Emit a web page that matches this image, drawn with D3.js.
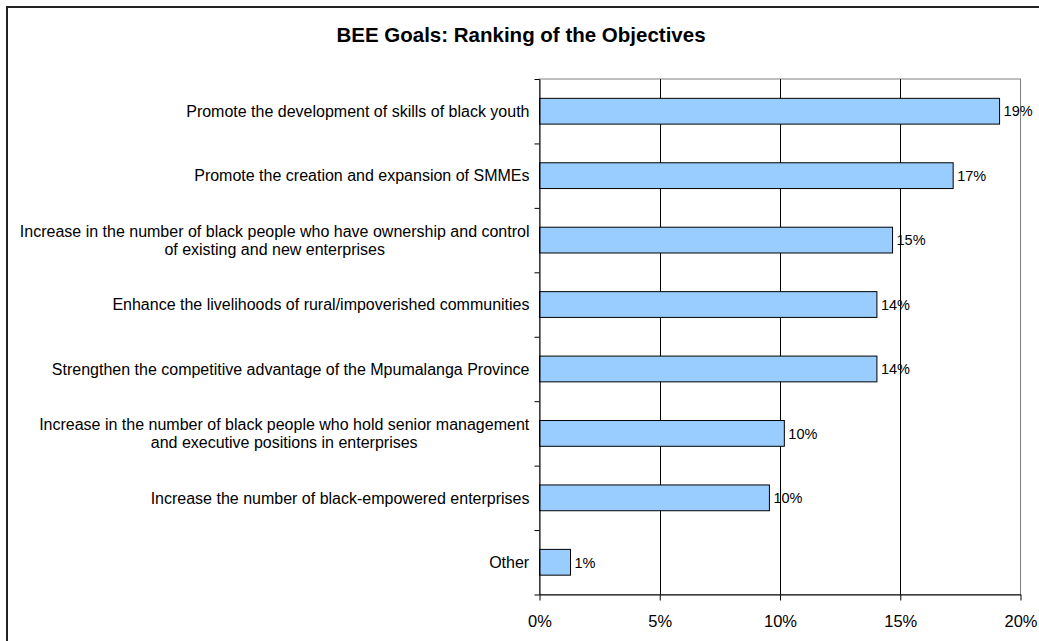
<!DOCTYPE html>
<html>
<head>
<meta charset="utf-8">
<script src="https://cdn.jsdelivr.net/npm/d3@7"></script>
<style>
  html, body { margin: 0; padding: 0; background: #fff; }
  svg { display: block; font-family: Arial, "Liberation Sans", sans-serif; }
</style>
</head>
<body>
<svg id="chart" width="1039" height="641"></svg>
<script>
// Objectives, top to bottom, each split into its display lines
const categories = [
  ["Promote the development of skills of black youth"],
  ["Promote the creation and expansion of SMMEs"],
  ["Increase in the number of black people who have ownership and control", "of existing and new enterprises"],
  ["Enhance the livelihoods of rural/impoverished communities"],
  ["Strengthen the competitive advantage of the Mpumalanga Province"],
  ["Increase in the number of black people who hold senior management", "and executive positions in enterprises"],
  ["Increase the number of black-empowered enterprises"],
  ["Other"]
];
// Share of responses ranking each objective (fraction)
const values = [0.1913, 0.1720, 0.1468, 0.1403, 0.1403, 0.1018, 0.0956, 0.0129];
const valueLabels = ["19%", "17%", "15%", "14%", "14%", "10%", "10%", "1%"];
const xTicks = [0, 0.05, 0.10, 0.15, 0.20];
const title = "BEE Goals: Ranking of the Objectives";

const svg = d3.select("#chart");
const plot = { left: 539.5, right: 1020.5, top: 79, bottom: 594.5 };

svg.append("rect").attr("width", 1039).attr("height", 641).attr("fill", "#fff");
// chart frame (runs past the right and bottom edges)
svg.append("rect")
  .attr("x", 7).attr("y", 7).attr("width", 1100).attr("height", 700)
  .attr("fill", "none").attr("stroke", "#222").attr("stroke-width", 2);

svg.append("text")
  .attr("x", 521).attr("y", 42)
  .attr("text-anchor", "middle")
  .attr("font-size", 20.5).attr("font-weight", "bold")
  .text(title);

const keys = categories.map((c, i) => i);
const x = d3.scaleLinear().domain([0, 0.2]).range([plot.left, plot.right]);
const y = d3.scaleBand().domain(keys).range([plot.top, plot.bottom])
  .paddingInner(0.6).paddingOuter(0.3);

// plot area border
svg.append("rect")
  .attr("x", plot.left).attr("y", plot.top)
  .attr("width", plot.right - plot.left).attr("height", plot.bottom - plot.top)
  .attr("fill", "none").attr("stroke", "#808080").attr("stroke-width", 1);

// vertical gridlines
svg.append("g").selectAll("line")
  .data(xTicks.filter(t => t > 0 && t < 0.2))
  .join("line")
  .attr("x1", d => Math.round(x(d)) + 0.5).attr("x2", d => Math.round(x(d)) + 0.5)
  .attr("y1", plot.top).attr("y2", plot.bottom)
  .attr("stroke", "#000").attr("stroke-width", 1);

// bars
svg.append("g").selectAll("rect")
  .data(values)
  .join("rect")
  .attr("x", x(0))
  .attr("y", (d, i) => y(i))
  .attr("width", d => x(d) - x(0))
  .attr("height", y.bandwidth())
  .attr("fill", "#99CCFF").attr("stroke", "#000").attr("stroke-width", 1);

// value labels
svg.append("g").selectAll("text")
  .data(values)
  .join("text")
  .attr("x", d => x(d) + 4)
  .attr("y", (d, i) => y(i) + y.bandwidth() / 2)
  .attr("dy", "0.36em")
  .attr("font-size", 14.5)
  .text((d, i) => valueLabels[i]);

// bottom axis
const xAxis = d3.axisBottom(x).tickValues(xTicks).tickFormat(d3.format(".0%"))
  .tickSize(6).tickSizeOuter(0);
const gx = svg.append("g").attr("transform", `translate(0,${plot.bottom})`).call(xAxis);
gx.select(".domain").attr("stroke", "#000");
gx.selectAll(".tick line").attr("stroke", "#000");
gx.selectAll(".tick text").attr("font-size", 16.5).attr("font-family", null)
  .attr("fill", "#000").attr("y", 32.5).attr("dy", null);

// left axis with ticks between categories
const yb = d3.scaleLinear().domain([0, keys.length]).range([plot.top, plot.bottom]);
const yAxis = d3.axisLeft(yb).ticks(keys.length).tickFormat("").tickSize(5).tickSizeOuter(0);
const gy = svg.append("g").attr("transform", `translate(${plot.left},0)`).call(yAxis);
gy.select(".domain").attr("stroke", "#000");
gy.selectAll(".tick line").attr("stroke", "#000");

// category labels
const lineH = 18.5;
const lab = svg.append("g").selectAll("text")
  .data(categories)
  .join("text")
  .attr("font-size", 16)
  .attr("text-anchor", "middle");
lab.each(function (lines, i) {
  const t = d3.select(this);
  const cy = y(i) + y.bandwidth() / 2;
  const first = cy - (lines.length - 1) * lineH / 2;
  lines.forEach((s, j) => {
    t.append("tspan").attr("x", 0).attr("y", first + j * lineH).attr("dy", "0.36em").text(s);
  });
});
// right-align each block to the axis while keeping its lines centred on each other
lab.each(function () {
  const t = d3.select(this);
  const w = this.getBBox().width;
  t.selectAll("tspan").attr("x", plot.left - 10 - w / 2);
});
</script>
</body>
</html>
